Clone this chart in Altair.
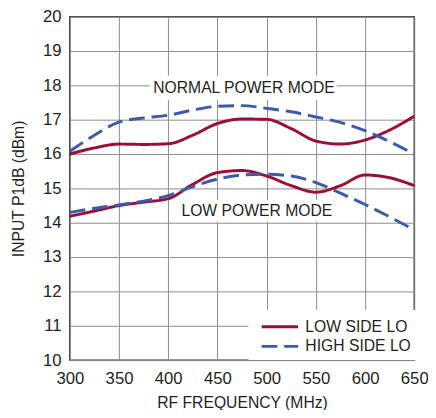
import altair as alt
import pandas as pd

freq = [300, 325, 350, 375, 400, 425, 450, 475, 500, 525, 550, 575, 600, 625, 650]
normal_low_side = [16.0, 16.18, 16.29, 16.28, 16.3, 16.55, 16.89, 17.02, 17.01, 16.74, 16.38, 16.29, 16.41, 16.7, 17.1]
normal_high_side = [16.08, 16.55, 16.93, 17.05, 17.13, 17.28, 17.39, 17.41, 17.33, 17.23, 17.08, 16.92, 16.68, 16.36, 16.0]
low_low_side = [14.19, 14.34, 14.5, 14.6, 14.7, 15.12, 15.46, 15.52, 15.36, 15.08, 14.89, 15.08, 15.39, 15.31, 15.08]
low_high_side = [14.3, 14.42, 14.52, 14.63, 14.79, 15.05, 15.27, 15.39, 15.41, 15.36, 15.17, 14.86, 14.53, 14.17, 13.79]

series_names = ["LOW SIDE LO", "HIGH SIDE LO"]
series_colors = ["#9b0d33", "#3b5aa9"]

label_text = ["NORMAL POWER MODE", "LOW POWER MODE"]
label_x = [477, 490]
label_y = [17.92, 14.33]
box_x1 = [381, 405]
box_x2 = [571, 573]
box_y1 = [17.57, 14.03]
box_y2 = [18.28, 14.66]

FONT = "Liberation Sans, Arial, sans-serif"
TXT = "#231f20"

rows = []
for mode, lo, hi in [("normal", normal_low_side, normal_high_side), ("low", low_low_side, low_high_side)]:
    for f, a, b in zip(freq, lo, hi):
        rows.append({"freq": f, "p1db": a, "series": series_names[0], "mode": mode})
        rows.append({"freq": f, "p1db": b, "series": series_names[1], "mode": mode})
df = pd.DataFrame(rows)

labels = pd.DataFrame({"text": label_text, "x": label_x, "y": label_y,
                       "x1": box_x1, "x2": box_x2, "y1": box_y1, "y2": box_y2})

xscale = alt.Scale(domain=[300, 650], nice=False, zero=False)
yscale = alt.Scale(domain=[10, 20], nice=False, zero=False)

xaxis = alt.Axis(values=list(range(300, 651, 50)), title="RF FREQUENCY (MHz)", grid=True,
                 ticks=False, domain=False, labelPadding=11, titlePadding=8, labelFlush=False,
                 labelOverlap=False)
yaxis = alt.Axis(values=list(range(10, 21)), title="INPUT P1dB (dBm)", grid=True,
                 ticks=False, domain=False, labelPadding=9, titlePadding=16, labelOverlap=False)

lines = alt.Chart(df).mark_line(interpolate="monotone", strokeWidth=3).encode(
    x=alt.X("freq:Q", scale=xscale, axis=xaxis),
    y=alt.Y("p1db:Q", scale=yscale, axis=yaxis),
    color=alt.Color("series:N", scale=alt.Scale(domain=series_names, range=series_colors),
                    legend=alt.Legend(title=None, orient="none", legendX=182, legendY=299,
                                      fillColor="white", padding=6,
                                      symbolType="M-0.37,0H3.53", symbolStrokeWidth=3, symbolSize=361,
                                      labelFontSize=16, labelFont=FONT, labelColor=TXT,
                                      labelOffset=30, rowPadding=1)),
    strokeDash=alt.StrokeDash("series:N", scale=alt.Scale(domain=series_names, range=[[1, 0], [16, 7]]),
                              legend=None),
    detail="mode:N",
)

boxes = alt.Chart(labels).mark_rect(fill="white").encode(
    x=alt.X("x1:Q", scale=xscale, axis=xaxis), x2="x2:Q",
    y=alt.Y("y1:Q", scale=yscale, axis=yaxis), y2="y2:Q",
)

texts = alt.Chart(labels).mark_text(font=FONT, fontSize=16, color=TXT, align="center", baseline="middle").encode(
    x=alt.X("x:Q", scale=xscale, axis=xaxis), y=alt.Y("y:Q", scale=yscale, axis=yaxis), text="text:N",
)

chart = alt.layer(boxes, texts, lines).properties(
    width=351, height=350,
    autosize=alt.AutoSizeParams(type="none"),
    padding={"left": 63, "top": 5, "right": 14, "bottom": 47},
).configure_view(
    stroke="#333333", strokeWidth=1.5
).configure_axis(
    gridColor="#8c8c8c", gridWidth=1, gridOpacity=1,
    labelFont=FONT, labelFontSize=17, labelColor=TXT,
    titleFont=FONT, titleFontSize=16, titleColor=TXT, titleFontWeight="normal",
)

chart.save("out.html", embed_options={"renderer": "svg", "actions": False})
